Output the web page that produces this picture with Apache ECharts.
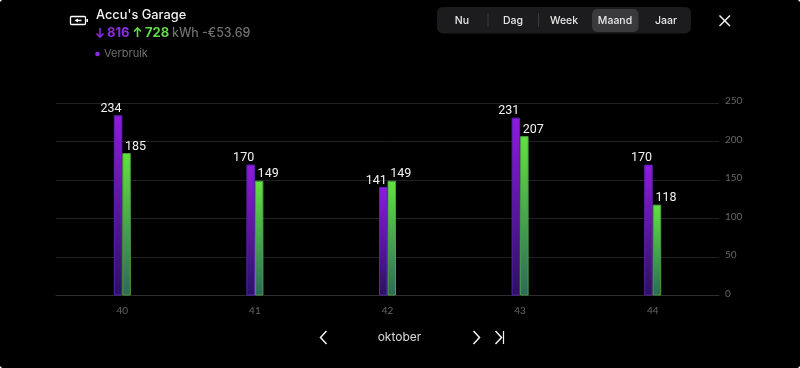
<!DOCTYPE html>
<html><head><meta charset="utf-8">
<style>html,body{margin:0;padding:0;background:#fff;width:800px;height:368px;overflow:hidden}#c{width:800px;height:368px;background:#000;border-radius:4px;overflow:hidden}</style>
<script src="https://cdn.jsdelivr.net/npm/echarts@6/dist/echarts.min.js"></script>
</head><body><div id="c"></div>
<script>
const categories=['40','41','42','43','44'];
const verbruik=[234,170,141,231,170];
const teruglevering=[185,149,149,207,118];
const tabs=['Nu','Dag','Week','Maand','Jaar'];
const tabCenters=[462,513,564,615,666];
const chart=echarts.init(document.getElementById('c'),null,{renderer:'canvas'});
const hf='Inter, "Noto Sans", sans-serif';
const grad=(a,b)=>new echarts.graphic.LinearGradient(0,0,0,1,[{offset:0,color:a},{offset:1,color:b}]);
const g=[];
g.push({type:'group',x:0,y:0,silent:true,children:[
 {type:'rect',shape:{x:70.5,y:16.5,width:15,height:8,r:1},style:{fill:'none',stroke:'#fff',lineWidth:1.3}},
 {type:'rect',shape:{x:86.5,y:19,width:1.5,height:3},style:{fill:'#fff'}},
 {type:'polygon',shape:{points:[[74.5,20.5],[78,18.5],[78,19.8],[81.5,19.8],[81.5,21.2],[78,21.2],[78,22.5]]},style:{fill:'#fff'}},
 {type:'text',x:96,y:9,style:{text:"Accu's Garage",font:'500 12.8px '+hf,fill:'#f2f2f2'}},
 {type:'polyline',shape:{points:[[100,28],[100,37]]},style:{stroke:'#8a2be2',lineWidth:1.6,fill:'none'}},
 {type:'polyline',shape:{points:[[96.5,33.5],[100,37],[103.5,33.5]]},style:{stroke:'#8a2be2',lineWidth:1.6,fill:'none'}},
 {type:'text',x:107,y:27,style:{text:'816',font:'700 13px '+hf,fill:'#8a2be2'}},
 {type:'polyline',shape:{points:[[137.5,28],[137.5,37]]},style:{stroke:'#5fdc45',lineWidth:1.6,fill:'none'}},
 {type:'polyline',shape:{points:[[134,31.5],[137.5,28],[141,31.5]]},style:{stroke:'#5fdc45',lineWidth:1.6,fill:'none'}},
 {type:'text',x:145,y:27,style:{text:'728',font:'700 13px '+hf,fill:'#5fdc45'}},
 {type:'text',x:172,y:27,style:{text:'kWh -€53.69',font:'500 12.4px '+hf,fill:'#6f6f6f'}},
 {type:'circle',shape:{cx:97.5,cy:54,r:2.3},style:{fill:'#8a2be2'}},
 {type:'text',x:104,y:48,style:{text:'Verbruik',font:'400 11px '+hf,fill:'#6f6f6f'}},
 {type:'rect',shape:{x:437,y:7,width:254,height:26.5,r:6},style:{fill:'#1c1c1e'}},
 {type:'rect',shape:{x:592,y:9,width:46.5,height:23,r:5},style:{fill:'#3a3a3c'}},
 {type:'rect',shape:{x:487.5,y:13,width:1,height:14},style:{fill:'#3a3a3c'}},
 {type:'rect',shape:{x:538,y:13,width:1,height:14},style:{fill:'#3a3a3c'}},
 ...tabs.map((t,i)=>({type:'text',x:tabCenters[i],y:20.5,style:{text:t,font:'500 10.5px '+hf,fill:'#e6e6e6',align:'center',verticalAlign:'middle'}})),
 {type:'polyline',shape:{points:[[719.5,15.5],[730,26]]},style:{stroke:'#f2f2f2',lineWidth:1.5,fill:'none'}},
 {type:'polyline',shape:{points:[[730,15.5],[719.5,26]]},style:{stroke:'#f2f2f2',lineWidth:1.5,fill:'none'}},
 {type:'polyline',shape:{points:[[326.5,331],[320.5,337.5],[326.5,344]]},style:{stroke:'#f2f2f2',lineWidth:1.5,fill:'none'}},
 {type:'text',x:399.5,y:337.5,style:{text:'oktober',font:'400 12px '+hf,fill:'#d8d8d8',align:'center',verticalAlign:'middle'}},
 {type:'polyline',shape:{points:[[473.5,331],[479.5,337.5],[473.5,344]]},style:{stroke:'#f2f2f2',lineWidth:1.5,fill:'none'}},
 {type:'polyline',shape:{points:[[495.5,331],[501.5,337.5],[495.5,344]]},style:{stroke:'#f2f2f2',lineWidth:1.5,fill:'none'}},
 {type:'polyline',shape:{points:[[503.5,331],[503.5,344]]},style:{stroke:'#f2f2f2',lineWidth:1.2,fill:'none'}}
]});
const lab=(ox)=>({show:true,position:'top',distance:0,offset:[ox,0],color:'#f2f2f2',fontFamily:'Roboto',fontSize:12.5});
chart.setOption({
 animation:false,backgroundColor:'#000',
 grid:{left:56,right:81,top:103,bottom:72.5},
 xAxis:{type:'category',data:categories,axisTick:{show:false},
  axisLine:{lineStyle:{color:'#2e2e2e'}},
  axisLabel:{color:'#666',fontFamily:'Lato',fontSize:10,margin:10}},
 yAxis:{type:'value',position:'right',min:0,max:250,interval:50,
  axisLine:{show:false},axisTick:{show:false},
  splitLine:{lineStyle:{color:'#222'}},
  axisLabel:{color:'#666',fontFamily:'Lato',fontSize:10,margin:6,align:'left',verticalAlign:'bottom',lineHeight:4}},
 series:[
  {name:'Verbruik',type:'bar',data:verbruik,barWidth:8.5,barGap:'0%',label:lab(-7),
   itemStyle:{color:grad('#8f1ae0','#2a1260'),borderColor:'#5a22b0',borderWidth:1}},
  {name:'Teruglevering',type:'bar',data:teruglevering,barWidth:8.5,label:lab(9),
   itemStyle:{color:grad('#62e23f','#2c6a5a'),borderColor:'#4d9e45',borderWidth:1}}
 ],
 graphic:g
});
</script></body></html>
